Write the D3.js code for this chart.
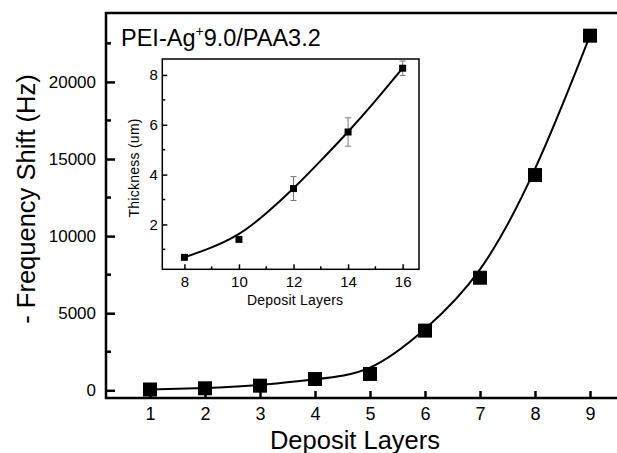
<!DOCTYPE html>
<html><head><meta charset="utf-8">
<script src="https://cdn.jsdelivr.net/npm/d3@7"></script>
<style>body{margin:0;background:#fff}svg{display:block}text{font-family:"Liberation Sans",Arial,sans-serif;fill:#000}</style>
</head><body>
<svg id="c" width="617" height="453"></svg>
<script>
// Main series
const layers = [1,2,3,4,5,6,7,8,9];
const freqShift = [50,130,300,730,1060,3870,7300,13960,23000];
const mainXTicks = [1,2,3,4,5,6,7,8,9];
const mainYTicks = [0,5000,10000,15000,20000];
// Inset series
const insetLayers = [8,10,12,14,16];
const thickness = [0.68,1.40,3.44,5.71,8.27];
const thicknessErr = [0.05,0.06,0.48,0.57,0.29];
const fitLayers = [8,9,10,11,12,13,14,15,16];
const fitThickness = [0.68,1.08,1.62,2.45,3.45,4.56,5.72,6.96,8.27];
const insetXTicks = [8,10,12,14,16];
const insetYTicks = [2,4,6,8];

const svg = d3.select("#c");

// ---------- main plot ----------
const x = d3.scaleLinear().domain([0.2,9.5]).range([106,617.5]);
const y = d3.scaleLinear().domain([-500,24470]).range([398,13]);

const g = svg.append("g");
g.append("line").attr("x1",106).attr("x2",106).attr("y1",12).attr("y2",399).attr("stroke","#000").attr("stroke-width",2.5);
g.append("line").attr("x1",105).attr("x2",620).attr("y1",13).attr("y2",13).attr("stroke","#000").attr("stroke-width",2.5);
g.append("line").attr("x1",105).attr("x2",620).attr("y1",398).attr("y2",398).attr("stroke","#000").attr("stroke-width",2.5);

const xAx = g.append("g").attr("transform","translate(0,398)")
  .call(d3.axisBottom(x).tickValues(mainXTicks).tickSize(-7).tickPadding(9).tickFormat(d3.format("d")));
xAx.select(".domain").remove();
xAx.selectAll("line").attr("stroke-width",2.5);
xAx.selectAll("text").attr("font-size",18);

const yAx = g.append("g").attr("transform","translate(106,0)")
  .call(d3.axisLeft(y).tickValues(mainYTicks).tickSize(-9).tickPadding(10).tickFormat(d3.format("d")));
yAx.select(".domain").remove();
yAx.selectAll("line").attr("stroke-width",2.5);
yAx.selectAll("text").attr("font-size",17);
const yMinor = mainYTicks.map(v=>v+2500);
g.selectAll(".ymin").data(yMinor).join("line")
  .attr("x1",106).attr("x2",111).attr("y1",d=>y(d)).attr("y2",d=>y(d)).attr("stroke","#000").attr("stroke-width",2.5);

const line = d3.line().x((d,i)=>x(layers[i])).y(d=>y(d)).curve(d3.curveBasis);
g.append("path").datum(freqShift).attr("d",line).attr("fill","none").attr("stroke","#000").attr("stroke-width",2);
g.selectAll(".pt").data(freqShift).join("rect")
  .attr("x",(d,i)=>x(layers[i])-7).attr("y",d=>y(d)-7).attr("width",14).attr("height",14).attr("fill","#000");

g.append("text").attr("x",355).attr("y",449).attr("text-anchor","middle").attr("font-size",25.5).text("Deposit Layers");
g.append("text").attr("transform","translate(35,199) rotate(-90)").attr("text-anchor","middle").attr("font-size",25.5).text("- Frequency Shift (Hz)");
const lbl = g.append("text").attr("x",121).attr("y",46).attr("font-size",23.5);
lbl.append("tspan").text("PEI-Ag");
lbl.append("tspan").attr("font-size",14).attr("dy",-10).text("+");
lbl.append("tspan").attr("dy",10).text("9.0/PAA3.2");

// ---------- inset ----------
const ix = d3.scaleLinear().domain([7.19,16.6]).range([162.3,419]);
const iy = d3.scaleLinear().domain([0.2,8.64]).range([269.3,59]);
const ig = svg.append("g");
ig.append("rect").attr("x",162.3).attr("y",59).attr("width",419-162.3).attr("height",269.3-59)
  .attr("fill","#fff").attr("stroke","#000").attr("stroke-width",1.5);

const ixAx = ig.append("g").attr("transform","translate(0,269.3)")
  .call(d3.axisBottom(ix).tickValues(insetXTicks).tickSize(-5).tickPadding(7.5).tickFormat(d3.format("d")));
ixAx.select(".domain").remove();
ixAx.selectAll("line").attr("stroke-width",1.5);
ixAx.selectAll("text").attr("font-size",15);
ig.selectAll(".ixm").data(insetXTicks.map(v=>v+1).filter(v=>v<16.6)).join("line")
  .attr("x1",d=>ix(d)).attr("x2",d=>ix(d)).attr("y1",269.3).attr("y2",266.3).attr("stroke","#000").attr("stroke-width",1.5);

const iyAx = ig.append("g").attr("transform","translate(162.3,0)")
  .call(d3.axisLeft(iy).tickValues(insetYTicks).tickSize(-5).tickPadding(4.5).tickFormat(d3.format("d")));
iyAx.select(".domain").remove();
iyAx.selectAll("line").attr("stroke-width",1.5);
iyAx.selectAll("text").attr("font-size",15);
ig.selectAll(".iym").data([1,3,5,7]).join("line")
  .attr("x1",162.3).attr("x2",165.3).attr("y1",d=>iy(d)).attr("y2",d=>iy(d)).attr("stroke","#000").attr("stroke-width",1.5);

const eb = ig.selectAll(".eb").data(thickness).join("g").attr("stroke","#777").attr("stroke-width",1);
eb.append("line").attr("x1",(d,i)=>ix(insetLayers[i])).attr("x2",(d,i)=>ix(insetLayers[i]))
  .attr("y1",(d,i)=>iy(d+thicknessErr[i])).attr("y2",(d,i)=>iy(d-thicknessErr[i]));
eb.append("line").attr("x1",(d,i)=>ix(insetLayers[i])-3).attr("x2",(d,i)=>ix(insetLayers[i])+3)
  .attr("y1",(d,i)=>iy(d+thicknessErr[i])).attr("y2",(d,i)=>iy(d+thicknessErr[i]));
eb.append("line").attr("x1",(d,i)=>ix(insetLayers[i])-3).attr("x2",(d,i)=>ix(insetLayers[i])+3)
  .attr("y1",(d,i)=>iy(d-thicknessErr[i])).attr("y2",(d,i)=>iy(d-thicknessErr[i]));

const iline = d3.line().x((d,i)=>ix(fitLayers[i])).y(d=>iy(d)).curve(d3.curveNatural);
ig.append("path").datum(fitThickness).attr("d",iline).attr("fill","none").attr("stroke","#000").attr("stroke-width",2);
ig.selectAll(".ipt").data(thickness).join("rect")
  .attr("x",(d,i)=>ix(insetLayers[i])-3.5).attr("y",d=>iy(d)-3.5).attr("width",7).attr("height",7).attr("fill","#000");

ig.append("text").attr("x",295).attr("y",305).attr("text-anchor","middle").attr("font-size",14).attr("textLength",96).text("Deposit Layers");
ig.append("text").attr("transform","translate(139,168) rotate(-90)").attr("text-anchor","middle").attr("font-size",14).attr("textLength",99).text("Thickness (um)");
</script>
</body></html>
